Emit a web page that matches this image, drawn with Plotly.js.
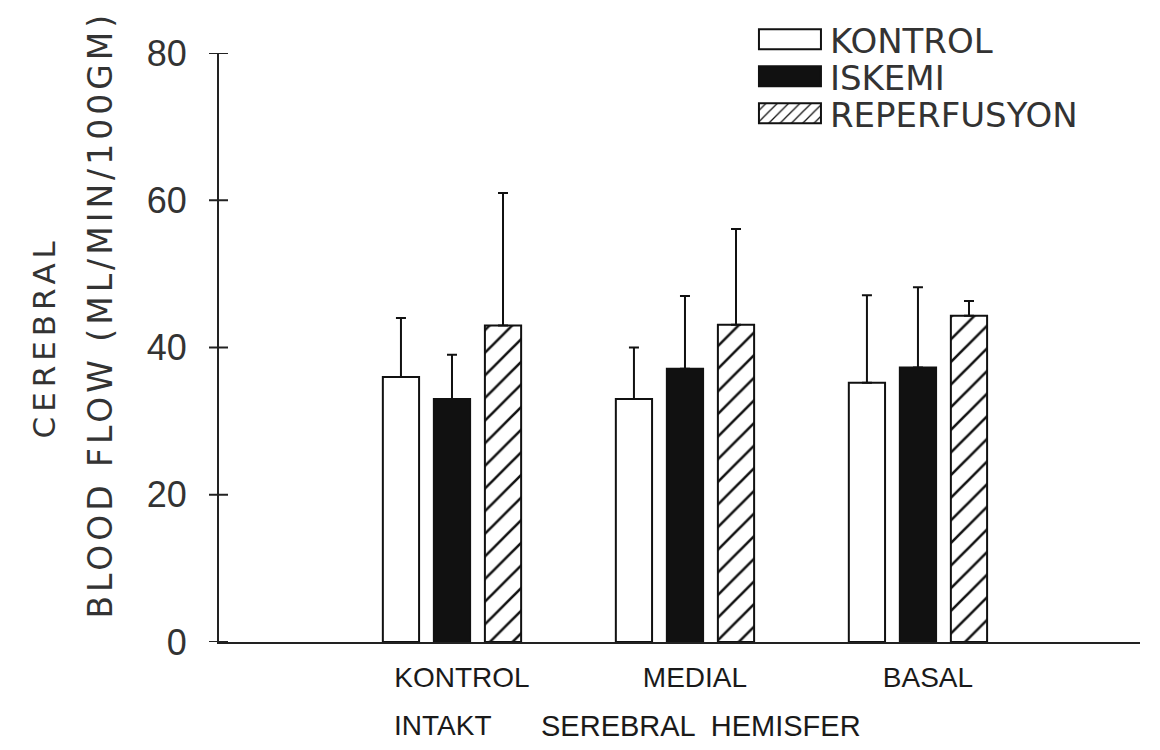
<!DOCTYPE html>
<html>
<head>
<meta charset="utf-8">
<script src="https://cdn.plot.ly/plotly-3.0.1.min.js"></script>
<style>
html,body{margin:0;padding:0;background:#fff;}
#chart{width:1160px;height:750px;}
.annotation[data-index="0"] text{letter-spacing:5px;}
.annotation[data-index="1"] text{letter-spacing:4px;}
</style>
</head>
<body>
<div id="chart"></div>
<script>
// Data
const categories = [1, 2, 3];
const categoryLabels = ["KONTROL", "MEDIAL", "BASAL"];
const seriesNames = ["KONTROL", "ISKEMI", "REPERFUSYON"];
const kontrolMean = [36.0, 33.0, 35.2];
const kontrolErr = [8.0, 7.0, 11.9];
const iskemiMean = [33.0, 37.1, 37.3];
const iskemiErr = [6.0, 9.9, 10.9];
const reperfMean = [43.0, 43.1, 44.3];
const reperfErr = [18.0, 13.0, 2.0];
const yTicks = [0, 20, 40, 60, 80];

const FONT = "Liberation Sans, Arial, sans-serif";
const WIDE = "DejaVu Sans, sans-serif";
const zeros = categories.map(() => 0);

function errUp(arr) {
  return {type: 'data', array: arr, arrayminus: zeros, symmetric: false,
          color: '#111', thickness: 2, width: 5};
}

const traces = [
  {type: 'bar', name: seriesNames[0], x: categories, y: kontrolMean,
   marker: {color: '#ffffff', line: {color: '#111', width: 2}},
   error_y: errUp(kontrolErr)},
  {type: 'bar', name: seriesNames[1], x: categories, y: iskemiMean,
   marker: {color: '#111111', line: {color: '#111', width: 2}},
   error_y: errUp(iskemiErr)},
  {type: 'bar', name: seriesNames[2], x: categories, y: reperfMean,
   marker: {color: '#ffffff', line: {color: '#111', width: 2},
            pattern: {shape: '/', fgcolor: '#111', bgcolor: '#ffffff', size: 16, solidity: 0.16}},
   error_y: errUp(reperfErr)}
];

// tick marks that cross the y axis line (both sides), one per y tick value
const crossTicks = yTicks.map(v => ({
  type: 'line', xref: 'paper', yref: 'y', xsizemode: 'pixel', xanchor: 0,
  x0: -10, x1: 9, y0: v, y1: v, line: {color: '#222', width: 2}, layer: 'above'
}));

const layout = {
  width: 1160, height: 750,
  paper_bgcolor: '#ffffff', plot_bgcolor: '#ffffff',
  margin: {l: 219, r: 20, t: 52, b: 108},
  barmode: 'group', bargap: 0.343, bargroupgap: 0.29,
  font: {family: FONT, color: '#222'},
  showlegend: true,
  legend: {x: 0.5765, y: 1.07, xanchor: 'left', yanchor: 'top',
           font: {family: WIDE, size: 34, color: '#333'},
           bgcolor: 'rgba(0,0,0,0)', tracegroupgap: 0, itemwidth: 70},
  xaxis: {range: [0, 3.953], tickvals: categories, ticktext: categoryLabels,
          showgrid: false, zeroline: false, showline: true, linecolor: '#222', linewidth: 2,
          ticks: '', ticklabelstandoff: 9, ticklabelshift: 10,
          tickfont: {family: FONT, size: 28, color: '#1a1a1a'}, fixedrange: true},
  yaxis: {range: [0, 80], tickvals: yTicks, showgrid: false, zeroline: false,
          showline: true, linecolor: '#222', linewidth: 2,
          ticks: '', ticklabelstandoff: 23,
          tickfont: {family: FONT, size: 36, color: '#333'}, fixedrange: true},
  shapes: crossTicks,
  annotations: [
    {text: 'CEREBRAL', xref: 'paper', yref: 'paper', x: -0.2117, y: 0.517,
     textangle: -90, showarrow: false, font: {family: WIDE, size: 31, color: '#333'}},
    {text: 'BLOOD FLOW (ML/MIN/100GM)', xref: 'paper', yref: 'paper', x: -0.152, y: 0.555,
     textangle: -90, showarrow: false, font: {family: WIDE, size: 33, color: '#333'}},
    {text: 'INTAKT', xref: 'x', yref: 'paper', x: 0.958, y: -0.142, yanchor: 'middle',
     showarrow: false, font: {family: FONT, size: 28, color: '#1a1a1a'}},
    {text: 'SEREBRAL  HEMISFER', xref: 'x', yref: 'paper', x: 2.068, y: -0.142, yanchor: 'middle',
     showarrow: false, font: {family: FONT, size: 29, color: '#1a1a1a'}}
  ]
};

Plotly.newPlot('chart', traces, layout, {displayModeBar: false, staticPlot: true}).then(function () {
  // widen the legend swatches to match the reference's long boxes
  document.querySelectorAll('.legend .legendpoints path').forEach(function (p) {
    p.setAttribute('d', 'M31,10H-31V-10H31Z');
  });
  // tighten legend row spacing
  const items = document.querySelectorAll('.legend g.traces');
  let x0 = 0, y0 = null;
  items.forEach(function (g, i) {
    const m = /translate\(\s*([-\d.]+)[ ,]+([-\d.]+)\s*\)/.exec(g.getAttribute('transform') || '');
    if (!m) return;
    if (y0 === null) { x0 = parseFloat(m[1]); y0 = parseFloat(m[2]); }
    g.setAttribute('transform', 'translate(' + x0 + ',' + (y0 + i * 37) + ')');
  });
});
</script>
</body>
</html>
